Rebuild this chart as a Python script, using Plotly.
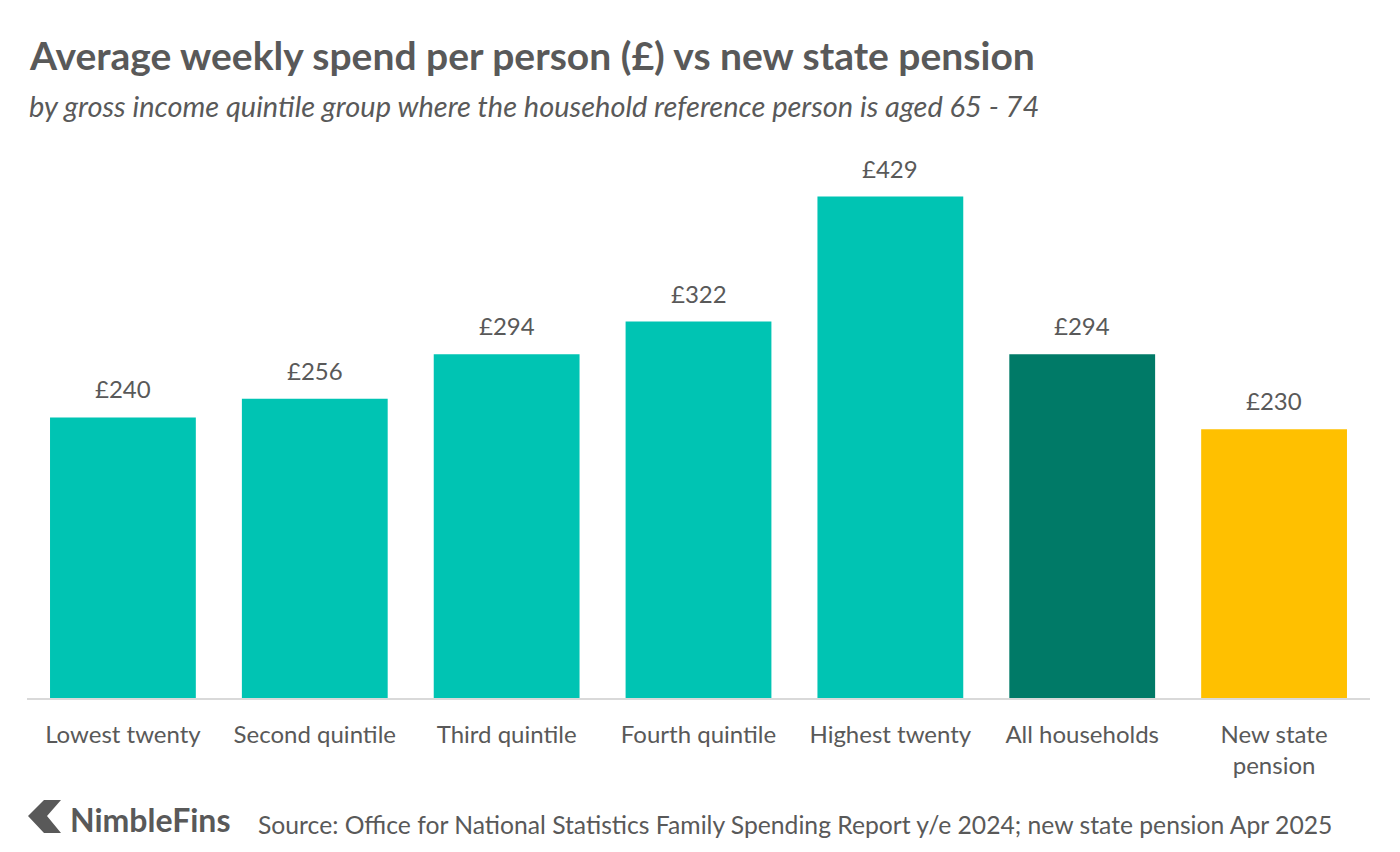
import plotly.graph_objects as go

categories = ["Lowest twenty", "Second quintile", "Third quintile", "Fourth quintile",
              "Highest twenty", "All households", "New state<br>pension"]
values = [240, 256, 294, 322, 429, 294, 230]
bar_colors = ["#00C4B3", "#00C4B3", "#00C4B3", "#00C4B3", "#00C4B3", "#007A67", "#FFC000"]
labels = [f"£{v}" for v in values]

FONT = "Lato"
GREY = "#595959"

fig = go.Figure(go.Bar(
    x=categories, y=values, marker=dict(color=bar_colors, line=dict(width=0)),
    hoverinfo="skip",
))

for c, v, t in zip(categories, values, labels):
    fig.add_annotation(x=c, y=v, text=t, showarrow=False, yanchor="bottom", yshift=12,
                       font=dict(family=FONT, size=24, color=GREY))

fig.update_layout(
    width=1400, height=852,
    margin=dict(l=27, r=30, t=172, b=154),
    paper_bgcolor="white", plot_bgcolor="white",
    bargap=0.24, showlegend=False,
    font=dict(family=FONT, color=GREY),
    xaxis=dict(showline=True, linecolor="#D9D9D9", linewidth=2, ticks="",
               ticklabelstandoff=14,
               tickfont=dict(family=FONT, size=24, color=GREY), showgrid=False),
    yaxis=dict(range=[0, 450], visible=False, showgrid=False),
)

def px(x): return (x - 27) / 1343
def py(y): return (698 - y) / 526

fig.add_annotation(xref="paper", yref="paper", x=px(27), y=py(55), xanchor="left", yanchor="middle",
                   text="<b>Average weekly spend per person (£) vs new state pension</b>",
                   showarrow=False, font=dict(family=FONT, size=39, color=GREY))
fig.add_annotation(xref="paper", yref="paper", x=px(27), y=py(106), xanchor="left", yanchor="middle",
                   text="<i>by gross income quintile group where the household reference person is aged 65 - 74</i>",
                   showarrow=False, font=dict(family=FONT, size=29, color=GREY))
fig.add_annotation(xref="paper", yref="paper", x=px(68), y=py(819), xanchor="left", yanchor="middle",
                   text="<b>NimbleFins</b>", showarrow=False, font=dict(family=FONT, size=32, color=GREY))
fig.add_annotation(xref="paper", yref="paper", x=px(256), y=py(824), xanchor="left", yanchor="middle",
                   text="Source: Office for National Statistics Family Spending Report y/e 2024; new state pension Apr 2025",
                   showarrow=False, font=dict(family=FONT, size=24.7, color=GREY))

# chevron logo
pts = [(44, 800), (61, 800), (47, 816), (61, 833), (44, 833), (28, 816)]
path = "M " + " L ".join(f"{px(a)},{py(b)}" for a, b in pts) + " Z"
fig.add_shape(type="path", xref="paper", yref="paper", path=path,
              fillcolor="#595959", line=dict(width=0))

fig.write_html("out.html")
